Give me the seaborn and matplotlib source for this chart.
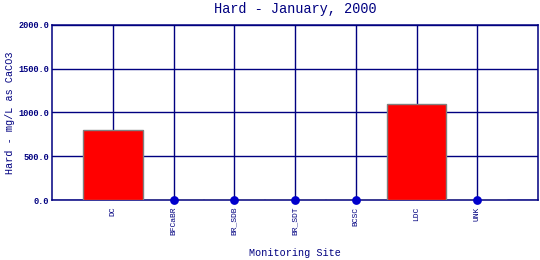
import matplotlib
matplotlib.use("Agg")
import matplotlib.pyplot as plt
import seaborn as sns
import pandas as pd
import numpy as np

sites = ["DC", "BFCaBR", "BR_SDB", "BR_SDT", "BCSC", "LDC", "UNK"]
hardness = [800.0, 0.0, 0.0, 0.0, 0.0, 1100.0, 0.0]
yticks = [0.0, 500.0, 1000.0, 1500.0, 2000.0]

navy = "#000080"
dotblue = "#0000CC"
mono = ["Liberation Mono", "DejaVu Sans Mono"]

sns.set_style("white")
plt.rcParams["font.family"] = mono

df = pd.DataFrame({"site": sites, "hard": hardness})
df["pos"] = np.arange(len(sites))

fig = plt.figure(figsize=(5.4, 2.6), dpi=100)
ax = fig.add_axes([52 / 540, 1 - 200 / 260, (538 - 52) / 540, 175 / 260])

sns.barplot(data=df, x="site", y="hard", order=sites, color="#FF0000",
            edgecolor="#808080", linewidth=1.0, width=0.98, saturation=1,
            ax=ax, zorder=3)
zeros = df[df["hard"] == 0]
sns.scatterplot(x=zeros["pos"], y=zeros["hard"], color=dotblue, s=40,
                edgecolor=dotblue, linewidth=0, ax=ax, zorder=5, clip_on=False)

ax.set_xlim(-1, len(sites))
ax.set_ylim(0, 2000)
ax.set_xticks(range(len(sites)))
ax.set_xticklabels(sites, rotation=90, fontsize=5.8, color=navy)
ax.set_yticks(yticks)
ax.set_yticklabels([f"{v:.1f}" for v in yticks], fontsize=6.2, color=navy,
                   fontweight="bold")
ax.tick_params(axis="x", length=0, pad=5)
ax.tick_params(axis="y", length=0, pad=2)
ax.grid(True, color=navy, linewidth=1.0, zorder=0)
ax.set_axisbelow(True)
for s in ax.spines.values():
    s.set_color(navy)
    s.set_linewidth(1.1)

ax.set_xlabel("Monitoring Site", fontsize=7.3, color=navy, labelpad=9)
ax.set_ylabel("Hard - mg/L as CaCO3", fontsize=7.3, color=navy)
ax.yaxis.set_label_coords(-37 / 486, 0.5)
ax.set_title("Hard - January, 2000", fontsize=9.8, color=navy, pad=9)

fig.savefig("out.png", dpi=100)
